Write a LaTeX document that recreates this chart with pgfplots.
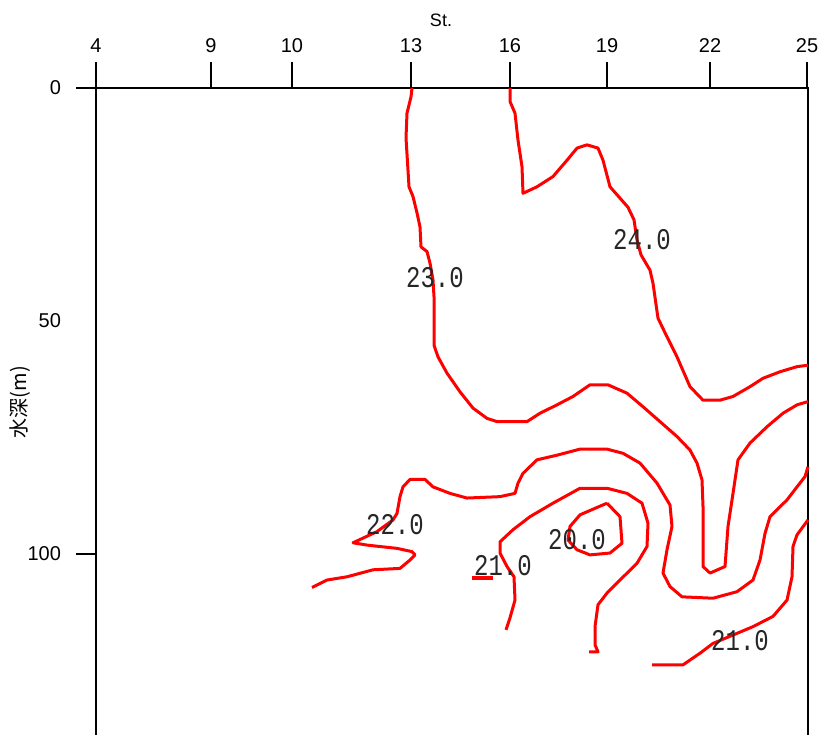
\documentclass[border=0pt]{standalone}
\usepackage{fontspec}
\setmainfont{Liberation Sans}
\newfontfamily\monofont{Liberation Mono}
\newfontfamily\cjk{Noto Sans CJK JP}
\usepackage{pgfplots}
\pgfplotsset{compat=1.18}

\definecolor{isored}{RGB}{255,0,0}
\tikzset{ctr/.style={isored, solid, line width=1.5pt, line join=round, mark=none}}

% x: distance along the section (station ticks), y: depth in m
\begin{document}
\begin{tikzpicture}
\begin{axis}[
  name=ax,
  scale only axis,
  width=356pt, height=325pt,
  xmin=0, xmax=712,
  ymin=0, ymax=139.5,
  y dir=reverse,
  clip=false,
  axis line style={line width=1pt},
  major tick length=0pt,
  xtick={0,115,196,315,414,511,614,711},
  xticklabels={4,9,10,13,16,19,22,25},
  xticklabel pos=right,
  xticklabel style={yshift=14pt},
  ytick={0,50,100},
  yticklabel style={xshift=-14pt},
  ticklabel style={font=\fontsize{10}{12}\selectfont},
  /pgf/number format/assume math mode=true,
]

% 24.0
\addplot[ctr] coordinates {(414,0)(414,2.9)(419,5.4)(422,11.2)(426,16.9)(427,22.6)(441,21.2)(457,19.0)
  (471,15.5)(481,12.9)(491,12.2)(502,12.9)(507,15.5)(514,21.2)(532,25.6)(538,28.3)(541,32.6)
  (545,35.8)(554,39.1)(557,41.9)(562,49.4)(571,53.4)(581,57.7)(594,64.1)(607,67.0)(624,67.0)
  (637,66.2)(654,64.1)(667,62.3)(684,60.9)(701,59.8)(712,59.5)};

% 23.0
\addplot[ctr] coordinates {(316,0)(315,1.9)(311,5.4)(310,10.7)(313,21.2)(317,23.3)(321,26.8)(324,29.8)
  (325,34.1)(331,35.1)(334,37.6)(337,41.2)(338,44.8)(338,55.2)(342,57.7)(351,61.2)(364,65.2)
  (377,68.7)(391,70.9)(401,71.6)(431,71.6)(444,69.8)(461,68.0)(477,66.2)(494,63.7)(512,63.7)
  (531,65.5)(547,68.4)(564,71.6)(581,74.8)(594,77.7)(601,80.5)(606,84.1)(607,89.8)(607,100.6)
  (607,102.7)(614,104.1)(629,102.7)(632,94.1)(637,87.0)(642,79.8)(654,76.2)(671,72.7)
  (687,69.8)(701,68.0)(712,67.3)};

% 22.0
\addplot[ctr] coordinates {(216,107.2)(231,105.6)(251,104.9)(277,103.4)(304,103.1)(314,101.3)(319,100.2)
  (316,99.5)(301,98.8)(271,98.1)(257,97.6)(281,95.2)(297,92.7)(301,91.3)(304,87.7)(307,85.6)
  (314,84.0)(329,84.0)(337,85.6)(354,87.0)(371,88.0)(404,87.7)(419,87.0)(422,84.8)(427,82.7)
  (441,79.8)(461,78.8)(484,77.5)(511,77.5)(527,78.4)(544,80.5)(561,84.8)(574,89.5)(576,94.1)
  (571,99.1)(567,104.1)(574,107.0)(586,109.2)(617,109.5)(641,108.1)(657,105.6)(664,101.3)
  (669,95.6)(674,92.0)(691,88.4)(701,85.6)(709,83.4)(712,81.3)};

% 21.0 (middle)
\addplot[ctr] coordinates {(493,121.0)(502,121.0)(499,119.5)(499,115.6)(502,110.9)(511,108.4)(524,105.6)
  (541,102.0)(551,98.4)(552,93.4)(546,89.1)(531,87.0)(511,85.9)(484,85.9)(457,89.1)(434,92.0)
  (417,94.8)(404,97.4)(404,99.8)(411,102.7)(418,104.9)(419,109.9)(414,113.7)(410,116.3)};

% 21.0 (right)
\addplot[ctr] coordinates {(556,123.8)(587,123.8)(604,121.3)(617,119.2)(637,117.4)(657,115.6)(677,113.4)
  (691,109.9)(696,104.9)(697,98.4)(701,95.9)(712,92.7)};

% 20.0
\addplot[ctr] coordinates {(511,89.1)(524,92.0)(526,97.7)(514,99.8)(494,100.2)(481,99.1)(472,97.0)
  (474,94.1)(484,91.6)(511,89.1)};

% small fragment near 21.0
\addplot[ctr, line width=2pt] coordinates {(376,105.2)(397,105.2)};

% tick marks
\pgfplotsinvokeforeach{0,115,196,315,414,511,614,711}{
  \draw[line width=1pt] (axis cs:#1,0) -- ++(0,13pt);
}
\draw[line width=1pt] (axis cs:0,0) -- ++(-10pt,0);
\draw[line width=1pt] (axis cs:0,100) -- ++(-10pt,0);

% contour labels
\begin{scope}[every node/.style={font=\monofont\fontsize{12}{14}\selectfont, inner sep=0pt, text=black!85}]
\node at (axis cs:339,40.8) {\scalebox{1}[1.25]{23.0}};
\node at (axis cs:546,32.6) {\scalebox{1}[1.25]{24.0}};
\node at (axis cs:299,93.8) {\scalebox{1}[1.25]{22.0}};
\node at (axis cs:407,102.4) {\scalebox{1}[1.25]{21.0}};
\node at (axis cs:481,97.0) {\scalebox{1}[1.25]{20.0}};
\node at (axis cs:644,118.5) {\scalebox{1}[1.25]{21.0}};
\end{scope}

% axis titles
\node[font=\fontsize{9}{11}\selectfont] at ([yshift=34pt]axis cs:345,0) {St.};
\node[font=\cjk\fontsize{10}{12}\selectfont, rotate=90] at ([xshift=-38pt]axis cs:0,67.4) {水深(m)};
\end{axis}
\pgfresetboundingbox
\path ([xshift=-48pt,yshift=44pt]ax.north west) rectangle ([xshift=5.5pt,yshift=-323pt]ax.north east);
\end{tikzpicture}
\end{document}
